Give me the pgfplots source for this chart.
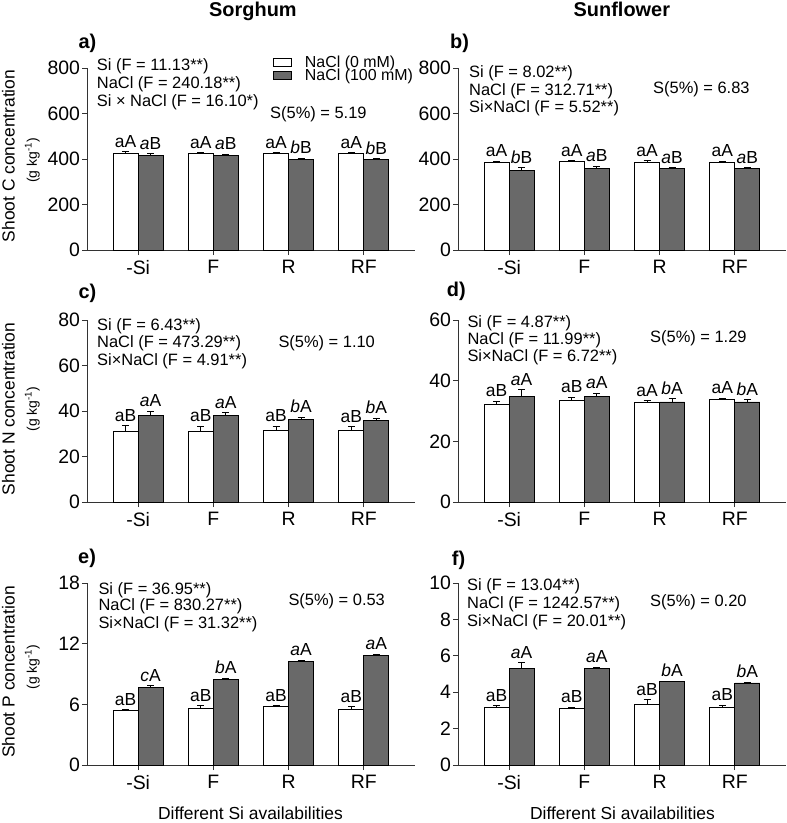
\documentclass[border=0pt]{standalone}
\usepackage{pgfplots}
\pgfplotsset{compat=1.18}
\usepackage{pgfplotstable}
\usepackage{fontspec}
\setmainfont{Liberation Sans}
\definecolor{bargray}{RGB}{105,105,105}
\def\itfirstX#1#2\relax{\textit{#1}#2}

\pgfplotstableread{
x w we wl g ge gl
0 425 7 aA 415 8 aB
1 425 3 aA 415 6 aB
2 426 3 aA 399 5 bB
3 425 3 aA 398 4 bB
}\tA
\pgfplotstableread{
x w we wl g ge gl
0 384 6 aA 349 12 bB
1 388 5 aA 358 10 aB
2 387 6 aA 357 4 aB
3 384 6 aA 358 5 aB
}\tB
\pgfplotstableread{
x w we wl g ge gl
0 31.0 2.5 aB 38.1 1.8 aA
1 31.2 2.1 aB 38.1 1.3 aA
2 31.3 2.1 aB 36.4 1.0 bA
3 31.3 1.9 aB 36.0 0.9 bA
}\tC
\pgfplotstableread{
x w we wl g ge gl
0 32.1 1.2 aB 34.9 2.2 aA
1 33.5 1.0 aB 34.8 1.1 aA
2 32.8 0.7 aA 33.0 1.0 bA
3 33.8 0.4 aA 33.0 0.8 bA
}\tD
\pgfplotstableread{
x w we wl g ge gl
0 5.38 0.12 aB 7.66 0.20 cA
1 5.61 0.25 aB 8.42 0.15 bA
2 5.75 0.10 aB 10.20 0.15 aA
3 5.48 0.30 aB 10.87 0.10 aA
}\tE
\pgfplotstableread{
x w we wl g ge gl
0 3.18 0.08 aB 5.32 0.30 aA
1 3.13 0.05 aB 5.32 0.05 aA
2 3.33 0.27 aB 4.57 0.05 bA
3 3.18 0.10 aB 4.51 0.05 bA
}\tF

\pgfplotsset{
  panel/.style={
    scale only axis, width=328bp, height=182bp,
    anchor=south west,
    xmin=-0.68, xmax=3.68, ymin=0,
    axis x line*=bottom, axis y line*=left,
    axis line style={black!80, line width=0.9bp},
    tick align=outside, major tick length=5bp,
    tick style={black!80, line width=0.9bp},
    xtick={0,1,2,3}, xticklabels={-Si,F,R,RF},
    tick label style={font=\fontsize{19.5}{19.5}\selectfont},
    xticklabel style={yshift=-1.5bp},
    yticklabel style={xshift=1.5bp},
    /pgf/number format/assume math mode=true,
    clip=false,
  },
  wbar/.style={ybar, bar width=25bp, bar shift=-12.5bp, fill=white, draw=black, line width=0.8bp,
     legend image code/.code={\draw[##1] (0bp,-4bp) rectangle (17.5bp,4bp);}},
  gbar/.style={ybar, bar width=25bp, bar shift=12.5bp, fill=bargray, draw=black, line width=0.8bp,
     legend image code/.code={\draw[##1] (0bp,-4bp) rectangle (17.5bp,4bp);}},
  errp/.style={draw=none, mark=none, forget plot,
     error bars/.cd, y dir=plus, y explicit, error bar style={black, line width=0.8bp},
     error mark options={rotate=90, mark size=3.5bp, line width=0.8bp}},
  wlab/.style={draw=none, mark=none, forget plot, nodes near coords, point meta=explicit symbolic,
     every node near coord/.append style={xshift=-12.5bp, anchor=south, inner sep=0bp, yshift=4bp,
       font=\fontsize{17.5}{17.5}\selectfont, black}},
  glab/.style={draw=none, mark=none, forget plot,
     nodes near coords={\expandafter\itfirstX\pgfplotspointmeta\relax}, point meta=explicit symbolic,
     every node near coord/.append style={xshift=12.5bp, anchor=south, inner sep=0bp, yshift=4bp,
       font=\fontsize{17.5}{17.5}\selectfont, black}},
}

\newcommand\bars[1]{%
  \addplot[wbar] table[x=x, y=w]{#1};
  \addplot[gbar] table[x=x, y=g]{#1};
  \addplot[errp] table[x expr=\thisrow{x}-0.16616, y=w, y error=we]{#1};
  \addplot[errp] table[x expr=\thisrow{x}+0.16616, y=g, y error=ge]{#1};
  \addplot[wlab] table[x=x, y expr=\thisrow{w}+\thisrow{we}, meta=wl]{#1};
  \addplot[glab] table[x=x, y expr=\thisrow{g}+\thisrow{ge}, meta=gl]{#1};
}
\newcommand\ann[3]{\node[anchor=base west, inner sep=0pt, font=\fontsize{16.5}{16.5}\selectfont] at (#1bp,-#2bp) {#3};}
\newcommand\plab[3]{\node[anchor=base west, inner sep=0pt, font=\fontsize{20}{20}\selectfont\bfseries] at (#1bp,-#2bp) {#3};}
\newcommand\ylab[4]{%
  \node[rotate=90, anchor=base, inner sep=0pt, font=\fontsize{17.5}{17.5}\selectfont] at (14.5bp,-#2bp) {#1};
  \node[rotate=90, anchor=base, inner sep=0pt, font=\fontsize{14}{14}\selectfont] at (36.8bp,-#4bp) {#3};}

\begin{document}
\begin{tikzpicture}
\useasboundingbox (0,0) rectangle (787bp,-823bp);

% a
\begin{axis}[panel, at={(87bp,-250bp)}, ymax=800, ytick={0,200,...,800},
  legend style={at={(axis description cs:0.567,1.069)}, anchor=north west, draw=none, fill=none,
    inner sep=0pt, font=\fontsize{16}{16}\selectfont, row sep=-1bp, nodes={inner sep=0.5bp},
    /tikz/every odd column/.append style={column sep=13bp}},
  legend cell align=left]
\bars{\tA}
\legend{NaCl (0 mM), NaCl (100 mM)}
\end{axis}
% b
\begin{axis}[panel, at={(458bp,-250bp)}, ymax=800, ytick={0,200,...,800}]
\bars{\tB}
\end{axis}
% c
\begin{axis}[panel, at={(87bp,-502bp)}, ymax=80, ytick={0,20,...,80}]
\bars{\tC}
\end{axis}
% d
\begin{axis}[panel, at={(458bp,-502bp)}, ymax=60, ytick={0,20,...,60}]
\bars{\tD}
\end{axis}
% e
\begin{axis}[panel, at={(87bp,-765bp)}, ymax=18, ytick={0,6,...,18}]
\bars{\tE}
\end{axis}
% f
\begin{axis}[panel, at={(458bp,-765bp)}, ymax=10, ytick={0,2,...,10}]
\bars{\tF}
\end{axis}

% column titles
\node[anchor=base west, inner sep=0pt, font=\fontsize{20}{20}\selectfont\bfseries] at (209bp,-16.7bp) {Sorghum};
\node[anchor=base west, inner sep=0pt, font=\fontsize{20}{20}\selectfont\bfseries] at (573.5bp,-16.7bp) {Sunflower};

% panel letters
\plab{78.3}{48.3}{a)}
\plab{450}{48}{b)}
\plab{78.3}{298.3}{c)}
\plab{446.7}{296.7}{d)}
\plab{78}{563.3}{e)}
\plab{451.7}{565}{f)}

% annotations
\ann{96.7}{70.5}{Si (F = 11.13**)}
\ann{96.7}{88}{NaCl (F = 240.18**)}
\ann{96.7}{106}{Si × NaCl (F = 16.10*)}
\ann{270}{118}{S(5\%) = 5.19}

\ann{469}{77}{Si (F = 8.02**)}
\ann{469}{95.5}{NaCl (F = 312.71**)}
\ann{469}{112.7}{Si×NaCl (F = 5.52**)}
\ann{653}{93}{S(5\%) = 6.83}

\ann{97}{330.7}{Si (F = 6.43**)}
\ann{97}{347.3}{NaCl (F = 473.29**)}
\ann{97}{365}{Si×NaCl (F = 4.91**)}
\ann{278.3}{347.3}{S(5\%) = 1.10}

\ann{467.3}{327.3}{Si (F = 4.87**)}
\ann{467.3}{344}{NaCl (F = 11.99**)}
\ann{467.3}{361.7}{Si×NaCl (F = 6.72**)}
\ann{650}{342.7}{S(5\%) = 1.29}

\ann{98.3}{594.3}{Si (F = 36.95**)}
\ann{98.3}{610.7}{NaCl (F = 830.27**)}
\ann{98.3}{628.3}{Si×NaCl (F = 31.32**)}
\ann{288.3}{605.7}{S(5\%) = 0.53}

\ann{467}{590.7}{Si (F = 13.04**)}
\ann{467}{608.3}{NaCl (F = 1242.57**)}
\ann{467}{626}{Si×NaCl (F = 20.01**)}
\ann{650}{606}{S(5\%) = 0.20}

% y labels
\ylab{Shoot C concentration}{156}{(g kg\textsuperscript{-1})}{160.5}
\ylab{Shoot N concentration}{409}{(g kg\textsuperscript{-1})}{409}
\ylab{Shoot P concentration}{672}{(g kg\textsuperscript{-1})}{667}

% x labels
\node[anchor=base, inner sep=0pt, font=\fontsize{17.5}{17.5}\selectfont] at (250.5bp,-819.5bp) {Different Si availabilities};
\node[anchor=base, inner sep=0pt, font=\fontsize{17.5}{17.5}\selectfont] at (622.5bp,-819.5bp) {Different Si availabilities};
\end{tikzpicture}
\end{document}
